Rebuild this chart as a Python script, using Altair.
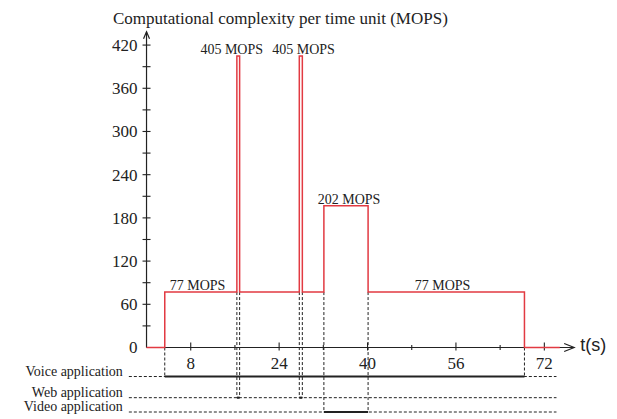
import altair as alt
import pandas as pd

# ---- data ----
seg_start = [0, 3.3, 16.35, 16.85, 27.65, 28.2, 32.1, 40.1, 68.4]
seg_end = [3.3, 16.35, 16.85, 27.65, 28.2, 32.1, 40.1, 68.4, 74.8]
seg_mops = [0, 77, 405, 77, 405, 77, 197, 77, 0]

label_text = ["77 MOPS", "405 MOPS", "405 MOPS", "202 MOPS", "77 MOPS"]
label_t = [9.23, 15.42, 28.42, 36.65, 53.57]
label_mops = [77, 405, 405, 197, 77]

apps = ["Voice application", "Web application", "Video application"]
app_start = [[3.3], [16.35, 27.65], [32.1]]
app_end = [[68.4], [16.85, 28.2], [40.1]]

y_major = [0, 60, 120, 180, 240, 300, 360, 420]
y_minor = [30, 90, 150, 210, 270, 330, 390]
x_major = [8, 24, 40, 56, 72]
x_minor = [16, 32, 48, 64]

title_text = "Computational complexity per time unit (MOPS)"
x_axis_title = "t(s)"

# ---- layout constants ----
PX_T = 1 / 5.525   # time units per pixel
PX_V = 1 / 0.72    # MOPS units per pixel
lane_y = [-40.3, -69.7, -89.6]
row_left, row_right = -3.2, 74.2
x_end, y_end = 77.4, 438.6

XS = alt.Scale(domain=[-26.52, 85.15], nice=False, zero=False)
YS = alt.Scale(domain=[-99.3, 482.6], nice=False, zero=False)

def X(f):
    return alt.X(f, type="quantitative", scale=XS, axis=None)

def Y(f):
    return alt.Y(f, type="quantitative", scale=YS, axis=None)

RED = "#e23a42"
INK = "#222222"
SERIF = "Liberation Serif, Times New Roman, serif"

# step line points
pts = []
o = 0
for s, e, m in zip(seg_start, seg_end, seg_mops):
    pts.append({"t": s, "v": m, "o": o}); o += 1
    pts.append({"t": e, "v": m, "o": o}); o += 1
step_df = pd.DataFrame(pts)

step = alt.Chart(step_df).mark_line(color=RED, strokeWidth=1.5, strokeJoin="miter").encode(
    x=X("t"), y=Y("v"), order="o:Q")

# axes lines
axes_df = pd.DataFrame([
    {"x": 0, "x2": 0, "y": 0, "y2": y_end},
    {"x": 0, "x2": x_end, "y": 0, "y2": 0},
])
axes = alt.Chart(axes_df).mark_rule(color=INK, strokeWidth=1.2).encode(
    x=X("x"), x2="x2:Q", y=Y("y"), y2="y2:Q")

# arrow heads
arr_df = pd.DataFrame([{"x": x_end, "y": 0}])
arrow_x = alt.Chart(arr_df).mark_point(
    shape="M-2,-0.8L0,0L-2,0.8", size=100, filled=False, color=INK, strokeWidth=1.2, opacity=1
).encode(x=X("x"), y=Y("y"))
arr_df2 = pd.DataFrame([{"x": 0, "y": y_end}])
arrow_y = alt.Chart(arr_df2).mark_point(
    shape="M-0.6,1.4L0,0L0.6,1.4", size=100, filled=False, color=INK, strokeWidth=1.2, opacity=1
).encode(x=X("x"), y=Y("y"))

# y ticks
yt = pd.DataFrame([{"v": v, "a": -4 * PX_T, "b": 4 * PX_T} for v in y_major + y_minor if v > 0])
ytick = alt.Chart(yt).mark_rule(color=INK, strokeWidth=1.1).encode(
    x=X("a"), x2="b:Q", y=Y("v"))
ylab = alt.Chart(pd.DataFrame({"v": y_major, "txt": [str(v) for v in y_major]})).mark_text(
    align="right", baseline="middle", dx=-9, dy=1, font=SERIF, fontSize=17, color=INK
).encode(x=alt.X(datum=0, scale=XS, axis=None), y=Y("v"), text="txt:N")

# x ticks
xt = pd.DataFrame([{"t": t, "a": -3 * PX_V, "b": 5 * PX_V} for t in x_major] +
                  [{"t": t, "a": -2.5 * PX_V, "b": 2.5 * PX_V} for t in x_minor])
xtick = alt.Chart(xt).mark_rule(color=INK, strokeWidth=1.1).encode(
    x=X("t"), y=Y("a"), y2="b:Q")
xlab = alt.Chart(pd.DataFrame({"t": x_major, "txt": [str(t) for t in x_major]})).mark_text(
    align="center", baseline="alphabetic", dy=22, font=SERIF, fontSize=17, color=INK
).encode(x=X("t"), y=alt.Y(datum=0, scale=YS, axis=None), text="txt:N")

xtitle = alt.Chart(pd.DataFrame({"t": [x_end], "txt": [x_axis_title]})).mark_text(
    align="left", baseline="middle", dx=6, dy=-1, font="Liberation Sans, Arial, sans-serif",
    fontSize=18, color=INK
).encode(x=X("t"), y=alt.Y(datum=0, scale=YS, axis=None), text="txt:N")

ytitle = alt.Chart(pd.DataFrame({"t": [0], "txt": [title_text]})).mark_text(
    align="left", baseline="alphabetic", dx=-33.5, font=SERIF, fontSize=17, color=INK
).encode(x=X("t"), y=alt.Y(datum=y_end, scale=YS, axis=None), yOffset=alt.value(-8), text="txt:N")

# MOPS labels
mlab = alt.Chart(pd.DataFrame({"t": label_t, "v": label_mops, "txt": label_text})).mark_text(
    align="center", baseline="alphabetic", dy=-2, font=SERIF, fontSize=14, color=INK
).encode(x=X("t"), y=Y("v"), text="txt:N")

# application rows
rows_df = pd.DataFrame({"app": apps, "y": lane_y, "a": row_left, "b": row_right})
rows = alt.Chart(rows_df).mark_rule(color=INK, strokeWidth=1, strokeDash=[3, 2]).encode(
    x=X("a"), x2="b:Q", y=Y("y"))
rowlab = alt.Chart(rows_df).mark_text(
    align="right", baseline="alphabetic", dx=-6, dy=-1, font=SERIF, fontSize=14, color=INK
).encode(x=X("a"), y=Y("y"), text="app:N")

act = []
guides = []
def level_at(t):
    for s, e, m in zip(seg_start, seg_end, seg_mops):
        if s <= t < e:
            return m
    return 0
for name, yy, ss, ee in zip(apps, lane_y, app_start, app_end):
    for s, e in zip(ss, ee):
        act.append({"app": name, "y": yy, "s": s, "e": e})
        for t in (s, e):
            top = min(level_at(t - 1e-6), level_at(t + 1e-6))
            guides.append({"t": t, "top": top, "bot": yy})
act_df = pd.DataFrame(act)
guides_df = pd.DataFrame(guides)
active = alt.Chart(act_df).mark_rule(color=INK, strokeWidth=2.2).encode(
    x=X("s"), x2="e:Q", y=Y("y"))
guide = alt.Chart(guides_df).mark_rule(color=INK, strokeWidth=1, strokeDash=[3, 2]).encode(
    x=X("t"), y=Y("top"), y2="bot:Q")

chart = alt.layer(
    rows, guide, active, axes, ytick, xtick, step, arrow_x, arrow_y,
    ylab, xlab, xtitle, ytitle, mlab, rowlab
).properties(
    width=617, height=419, padding=0,
    autosize=alt.AutoSizeParams(type="none"),
    background="white",
).configure_view(strokeWidth=0)

chart.save("out.html", embed_options={"renderer": "svg", "actions": False})
